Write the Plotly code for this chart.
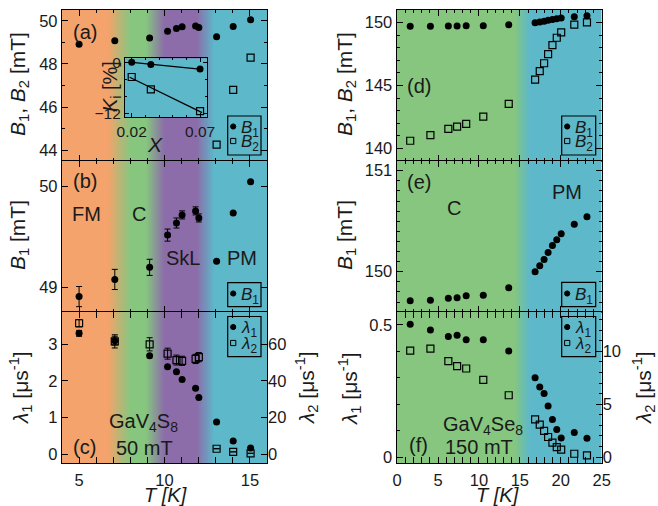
import numpy as np
import plotly.graph_objects as go

W, H = 658, 506
FONT = "Liberation Sans, Arial, sans-serif"

# ---------------- data: GaV4S8, 50 mT ----------------
T_S = [5.0, 7.09, 9.13, 10.18, 10.7, 11.03, 11.82, 12.01, 13.05, 14.02, 15.04]
B1_S = [48.91, 49.08, 49.2, 49.52, 49.64, 49.72, 49.76, 49.69, 49.26, 49.74, 50.05]
B1_S_err = [0.10, 0.10, 0.08, 0.06, 0.05, 0.04, 0.04, 0.04, 0.0, 0.0, 0.0]
T_S_B2 = [13.05, 14.02, 15.04]
B2_S = [44.26, 46.8, 48.29]
lam1_S = [3.30, 3.10, 2.69, 2.39, 2.25, 2.04, 1.80, 1.55, 0.88, 0.36, 0.17]
lam1_S_err = [0.08, 0.12, 0.0, 0.0, 0.0, 0.0, 0.0, 0.0, 0.0, 0.0, 0.0]
lam2_S = [71.5, 61.6, 60.0, 54.9, 51.4, 51.0, 52.0, 53.0, 3.0, 1.3, 0.5]
lam2_S_err = [2.0, 3.6, 3.6, 3.0, 2.7, 2.5, 2.5, 2.5, 0.0, 0.0, 0.0]

# inset of (a)
X_inset = [0.02, 0.034, 0.07]
K1_inset = [0.0, -0.5, -1.6]
K2_inset = [-3.46, -6.35, -11.5]

# ---------------- data: GaV4Se8, 150 mT ----------------
T_Se = [1.6, 4.07, 6.26, 7.33, 8.44, 10.53, 13.64, 16.86, 17.43, 17.96, 18.45,
        18.98, 19.51, 20.05, 21.65, 23.2]
B1_Se = [149.713, 149.717, 149.737, 149.743, 149.762, 149.766, 149.84, 150.0, 150.06,
         150.12, 150.19, 150.26, 150.317, 150.376, 150.47, 150.545]
B2_Se = [140.6, 141.05, 141.54, 141.72, 141.94, 142.52, 143.53, 145.46, 146.15, 146.77,
         147.5, 148.22, 148.8, 149.23, 149.84, 150.03]
lam1_Se = [0.5025, 0.481, 0.456, 0.461, 0.444, 0.444, 0.401, 0.30, 0.265, 0.241, 0.193,
           0.142, 0.104, 0.072, 0.093, 0.071]
lam2_Se = [10.07, 10.26, 9.08, 8.6, 8.38, 7.3, 5.85, 3.56, 3.08, 2.48, 1.9, 1.37, 0.95,
           0.7, 0.32, 0.16]

# phase backgrounds (T anchors and phase index: 0 FM, 1 C, 2 SkL, 3 PM)
phase_T_S = [4.0, 6.7, 8.0, 8.9, 10.0, 11.9, 12.9, 16.0]
phase_S = [0, 0, 1, 1, 2, 2, 3, 3]
phase_T_Se = [0.0, 14.3, 16.2, 25.0]
phase_Se = [0, 0, 1, 1]

ORANGE, GREEN, PURPLE, CYAN = "#F3A36B", "#86C67F", "#8C6DAA", "#5DB8C9"
cs_S = [[0, ORANGE], [1 / 3, GREEN], [2 / 3, PURPLE], [1, CYAN]]
cs_Se = [[0, GREEN], [1, CYAN]]

# ---------------- layout geometry ----------------
def px(x):
    return x / W

def py(y):
    return 1 - y / H

colL = [px(62), px(267)]
colR = [px(396.7), px(601.7)]
rowA = [py(161), py(10)]
rowB = [py(311.7), py(161)]
rowC = [py(463.2), py(311.7)]

xr_S = [4, 16]
xr_Se = [-0.05, 25]
yr = {
    "a": [43.5, 50.5], "b": [48.76, 50.255], "c": [-0.245, 3.89], "c2": [-4.9, 77.8],
    "d": [138.99, 151.01], "e": [149.604, 151.096], "f": [-0.023, 0.55], "f2": [-0.575, 13.75],
    "i_x": [0.0151, 0.0753], "i_y": [-12.94, 0.94],
}

fig = go.Figure()


def background(xa, ya, xrange, yrange, anchors, phases, cs, zmax):
    edges = np.linspace(xrange[0], xrange[1], 401)
    centers = 0.5 * (edges[:-1] + edges[1:])
    z = np.interp(centers, anchors, phases)
    fig.add_trace(go.Heatmap(x=edges, y=list(yrange), z=[z], colorscale=cs, zmin=0, zmax=zmax,
                             showscale=False, hoverinfo="skip", xaxis=xa, yaxis=ya))


for xa, ya, key in [("x", "y", "a"), ("x2", "y2", "b"), ("x3", "y3", "c")]:
    background(xa, ya, xr_S, yr[key], phase_T_S, phase_S, cs_S, 3)
for xa, ya, key in [("x4", "y4", "d"), ("x5", "y5", "e"), ("x6", "y6", "f")]:
    background(xa, ya, xr_Se, yr[key], phase_T_Se, phase_Se, cs_Se, 1)
# inset background (paramagnetic colour)
background("x9", "y9", yr["i_x"], yr["i_y"], [0, 1], [3, 3], cs_S, 3)

circ = dict(symbol="circle", size=7, color="black")
sq = dict(symbol="square-open", size=7, color="black", line=dict(width=1.2, color="black"))
err = dict(type="data", color="black", thickness=1, width=3)

# (a)
fig.add_trace(go.Scatter(x=T_S, y=B1_S, mode="markers", marker=circ, xaxis="x", yaxis="y"))
fig.add_trace(go.Scatter(x=T_S_B2, y=B2_S, mode="markers", marker=sq, xaxis="x", yaxis="y"))
# (b)
fig.add_trace(go.Scatter(x=T_S, y=B1_S, mode="markers", marker=circ,
                         error_y=dict(array=B1_S_err, **err), xaxis="x2", yaxis="y2"))
# (c): lambda_2 on the right axis, lambda_1 on the left axis
fig.add_trace(go.Scatter(x=T_S, y=lam2_S, mode="markers", marker=sq,
                         error_y=dict(array=lam2_S_err, **err), xaxis="x3", yaxis="y7"))
fig.add_trace(go.Scatter(x=T_S, y=lam1_S, mode="markers", marker=circ,
                         error_y=dict(array=lam1_S_err, **err), xaxis="x3", yaxis="y3"))
# (d)
fig.add_trace(go.Scatter(x=T_Se, y=B1_Se, mode="markers", marker=circ, xaxis="x4", yaxis="y4"))
fig.add_trace(go.Scatter(x=T_Se, y=B2_Se, mode="markers", marker=sq, xaxis="x4", yaxis="y4"))
# (e)
fig.add_trace(go.Scatter(x=T_Se, y=B1_Se, mode="markers", marker=circ, xaxis="x5", yaxis="y5"))
# (f)
fig.add_trace(go.Scatter(x=T_Se, y=lam2_Se, mode="markers", marker=sq, xaxis="x6", yaxis="y8"))
fig.add_trace(go.Scatter(x=T_Se, y=lam1_Se, mode="markers", marker=circ, xaxis="x6", yaxis="y6"))

# inset with linear fits
xi = np.array(X_inset)
xfit = np.array([xi.min() - 0.0015, xi.max() + 0.0015])
for vals, mk in [(K1_inset, circ), (K2_inset, sq)]:
    p = np.polyfit(xi, vals, 1)
    fig.add_trace(go.Scatter(x=xfit, y=np.polyval(p, xfit), mode="lines",
                             line=dict(color="black", width=1.3), xaxis="x9", yaxis="y9"))
    fig.add_trace(go.Scatter(x=X_inset, y=vals, mode="markers", marker=mk, xaxis="x9", yaxis="y9"))

# ---------------- axes ----------------
base = dict(showline=True, linecolor="black", linewidth=1.3, mirror="allticks", ticks="inside",
            ticklen=6, tickwidth=1.2, tickcolor="black", showgrid=False, zeroline=False,
            automargin=False, tickfont=dict(size=16.5, family=FONT, color="#1a1a1a"))


def minor(d, n=3):
    return dict(dtick=d, ticks="inside", ticklen=n, tickwidth=1, tickcolor="black", showgrid=False)


def xax(dom, rng, anchor, labels, match=None):
    a = dict(base, domain=dom, range=rng, anchor=anchor, tick0=0, dtick=5,
             showticklabels=labels, minor=minor(1), ticklabelstandoff=2)
    if match:
        a["matches"] = match
    return a


small = dict(size=15.5, family=FONT, color="#1a1a1a")
layout = dict(
    xaxis=xax(colL, xr_S, "y", False, "x3"),
    xaxis2=xax(colL, xr_S, "y2", False, "x3"),
    xaxis3=xax(colL, xr_S, "y3", True),
    xaxis4=xax(colR, xr_Se, "y4", False, "x6"),
    xaxis5=xax(colR, xr_Se, "y5", False, "x6"),
    xaxis6=xax(colR, xr_Se, "y6", True),
    yaxis=dict(base, domain=rowA, range=yr["a"], anchor="x", tickvals=[44, 46, 48, 50], minor=minor(1)),
    yaxis2=dict(base, domain=rowB, range=yr["b"], anchor="x2", tickvals=[49, 50]),
    yaxis3=dict(base, domain=rowC, range=yr["c"], anchor="x3", tickvals=[0, 1, 2, 3], mirror=True),
    yaxis7=dict(base, range=yr["c2"], anchor="x3", overlaying="y3", side="right",
                tickvals=[0, 20, 40, 60], showline=False, mirror=False),
    yaxis4=dict(base, domain=rowA, range=yr["d"], anchor="x4", tickvals=[140, 145, 150], minor=minor(1)),
    yaxis5=dict(base, domain=rowB, range=yr["e"], anchor="x5", tickvals=[150, 151], minor=minor(0.1)),
    yaxis6=dict(base, domain=rowC, range=yr["f"], anchor="x6", tickvals=[0, 0.5], mirror=True,
                minor=minor(0.1)),
    yaxis8=dict(base, range=yr["f2"], anchor="x6", overlaying="y6", side="right",
                tickvals=[0, 5, 10], showline=False, mirror=False, minor=minor(1)),
    xaxis9=dict(base, domain=[px(125), px(207.3)], range=yr["i_x"], anchor="y9",
                tickvals=[0.02, 0.07], ticklen=4, minor=minor(0.01, 2), tickfont=small),
    yaxis9=dict(base, domain=[py(117.3), py(58.3)], range=yr["i_y"], anchor="x9",
                tickvals=[-12, 0], ticklen=4, minor=minor(4, 2), tickfont=small),
)

TXT = 20
TT = 21
ann = []


def note(text, x, y, xref, yref, size=TXT, xanchor="center", yanchor="middle", **kw):
    ann.append(dict(text=text, x=x, y=y, xref=xref, yref=yref, showarrow=False,
                    xanchor=xanchor, yanchor=yanchor,
                    font=dict(size=size, family=FONT, color="#1a1a1a"), **kw))


# panel labels & phase names
note("(a)", 5.33, 49.48, "x", "y")
note("(b)", 5.33, 50.06, "x2", "y2")
note("FM", 5.45, 49.73, "x2", "y2")
note("C", 8.51, 49.73, "x2", "y2")
note("SkL", 11.06, 49.29, "x2", "y2")
note("PM", 14.55, 49.29, "x2", "y2")
note("(c)", 5.33, 0.2, "x3", "y3")
note("GaV<sub>4</sub>S<sub>8</sub>", 8.75, 0.86, "x3", "y3")
note("50 mT", 8.85, 0.18, "x3", "y3")
note("(d)", 2.65, 144.96, "x4", "y4")
note("(e)", 2.65, 150.89, "x5", "y5")
note("C", 6.91, 150.63, "x5", "y5")
note("PM", 20.75, 150.79, "x5", "y5")
note("(f)", 2.65, 0.044, "x6", "y6")
note("GaV<sub>4</sub>Se<sub>8</sub>", 10.5, 0.12, "x6", "y6")
note("150 mT", 10.0, 0.038, "x6", "y6")

# axis titles
B12 = "<i>B</i><sub>1</sub>, <i>B</i><sub>2</sub> [mT]"
B1t = "<i>B</i><sub>1</sub> [mT]"
L1 = "<i>λ</i><sub>1</sub> [μs<sup>-1</sup>]"
L2 = "<i>λ</i><sub>2</sub> [μs<sup>-1</sup>]"
P = "paper"
note(B12, px(19), py(84), P, P, TT, textangle=-90)
note(B1t, px(19), py(235), P, P, TT, textangle=-90)
note(L1, px(20), py(388), P, P, TT, textangle=-90)
note(L2, px(306), py(388), P, P, TT, textangle=-90)
note(B12, px(346), py(84), P, P, TT, textangle=-90)
note(B1t, px(346), py(235), P, P, TT, textangle=-90)
note(L1, px(349), py(388), P, P, TT, textangle=-90)
note(L2, px(643), py(388), P, P, TT, textangle=-90)
note("<i>T [K]</i>", px(165), py(495), P, P, 20)
note("<i>T [K]</i>", px(497), py(495), P, P, 20)
note("<i>X</i>", px(155), py(144), P, P, TT)
note("<i>K</i><sub>i</sub> [%]", px(111), py(87), P, P, 20, textangle=-90)

# manual legend boxes
shapes = []


def legend_box(x0, x1, y0, y1, items):
    shapes.append(dict(type="rect", xref=P, yref=P, x0=px(x0), x1=px(x1), y0=py(y1), y1=py(y0),
                       line=dict(color="black", width=1.2), fillcolor="rgba(0,0,0,0)"))
    for kind, label, yc in items:
        cx = x0 + 5.5
        r = 2.6
        if kind == "c":
            shapes.append(dict(type="circle", xref=P, yref=P, x0=px(cx - r), x1=px(cx + r),
                               y0=py(yc + r), y1=py(yc - r), fillcolor="black",
                               line=dict(color="black", width=1)))
        else:
            shapes.append(dict(type="rect", xref=P, yref=P, x0=px(cx - r), x1=px(cx + r),
                               y0=py(yc + r), y1=py(yc - r), fillcolor="rgba(0,0,0,0)",
                               line=dict(color="black", width=1)))
        note(label, px(x0 + 11), py(yc + 2), P, P, 17, xanchor="left")


LB1 = "<i>B</i><sub>1</sub>"
LB2 = "<i>B</i><sub>2</sub>"
LL1 = "<i>λ</i><sub>1</sub>"
LL2 = "<i>λ</i><sub>2</sub>"
legend_box(227.7, 261, 116, 155, [("c", LB1, 126.5), ("s", LB2, 141)])
legend_box(227.7, 261, 282.7, 306.7, [("c", LB1, 293.5)])
legend_box(227.7, 261, 316.5, 356.7, [("c", LL1, 327), ("s", LL2, 343)])
legend_box(561.7, 595.7, 116, 155, [("c", LB1, 126.5), ("s", LB2, 141)])
legend_box(561.7, 595.7, 282.3, 306.7, [("c", LB1, 293.5)])
legend_box(561.7, 595.7, 316.5, 356.7, [("c", LL1, 327), ("s", LL2, 343)])

fig.update_layout(**layout)
fig.update_layout(width=W, height=H, margin=dict(l=0, r=0, t=0, b=0), showlegend=False,
                  paper_bgcolor="white", plot_bgcolor="rgba(0,0,0,0)",
                  annotations=ann, shapes=shapes, font=dict(family=FONT, color="black"))
fig.write_html("out.html", config={"displayModeBar": False},
               post_script="document.body.style.margin='0px';document.body.style.overflow='hidden';")
